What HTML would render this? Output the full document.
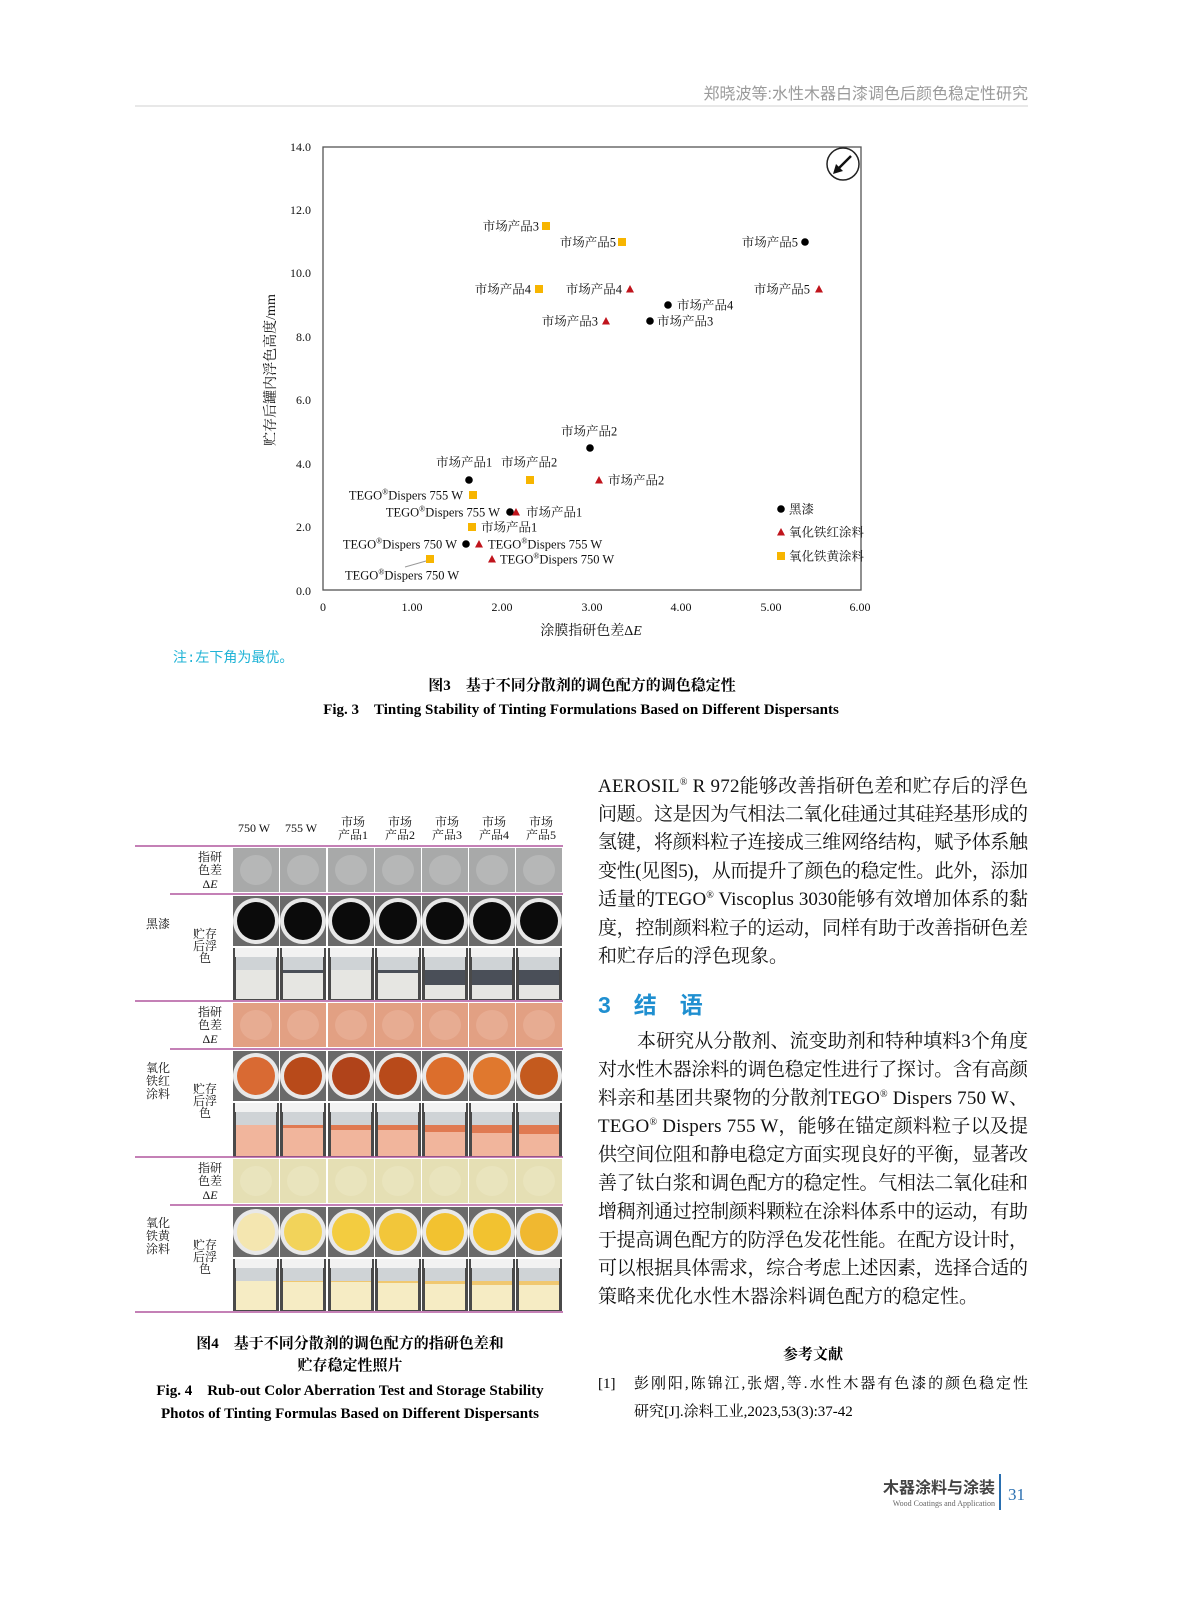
<!DOCTYPE html>
<html><head><meta charset="utf-8">
<style>
html,body{margin:0;padding:0;background:#fff;}
svg{display:block;}
.s{font-family:"Liberation Serif","Noto Serif CJK SC",serif;}
.h{font-family:"Liberation Sans","Noto Sans CJK SC",sans-serif;}
</style></head>
<body>
<svg id="pg" width="1187" height="1600" viewBox="0 0 1187 1600" xmlns="http://www.w3.org/2000/svg">
<rect width="1187" height="1600" fill="#fff"/>
<text x="1028" y="99" text-anchor="end" class="h" font-size="16" fill="#9a9a9a">郑晓波等:水性木器白漆调色后颜色稳定性研究</text>
<line x1="135" y1="106" x2="1028" y2="106" stroke="#d0d0d0" stroke-width="1"/>

<g class="s" font-size="12.5" fill="#111">
<rect x="323" y="147" width="538" height="443" fill="none" stroke="#555" stroke-width="1.3"/>
<g text-anchor="end" font-size="12">
<text x="311" y="151">14.0</text><text x="311" y="214">12.0</text><text x="311" y="277">10.0</text>
<text x="311" y="341">8.0</text><text x="311" y="404">6.0</text><text x="311" y="468">4.0</text>
<text x="311" y="531">2.0</text><text x="311" y="595">0.0</text>
</g>
<g text-anchor="middle" font-size="12">
<text x="323" y="611">0</text><text x="412" y="611">1.00</text><text x="502" y="611">2.00</text>
<text x="592" y="611">3.00</text><text x="681" y="611">4.00</text><text x="771" y="611">5.00</text><text x="860" y="611">6.00</text>
</g>
<text x="591" y="635" text-anchor="middle" font-size="14">涂膜指研色差Δ<tspan font-style="italic">E</tspan></text>
<text transform="translate(275,370) rotate(-90)" text-anchor="middle" font-size="14">贮存后罐内浮色高度/mm</text>
<circle cx="843" cy="164" r="16" fill="#fff" stroke="#222" stroke-width="1.5"/>
<line x1="851" y1="156" x2="837" y2="170" stroke="#111" stroke-width="2.5"/>
<polygon points="833,174 836,164 843,171" fill="#111"/>
</g>
<g id="pts" class="s" font-size="12.5" fill="#111"></g>

<text x="173" y="662" font-family="'Liberation Mono','Noto Sans CJK SC',monospace" font-size="14" fill="#1fb3d6">注:左下角为最优。</text>
<text x="582" y="690" text-anchor="middle" class="s" font-size="15" font-weight="bold">图3　基于不同分散剂的调色配方的调色稳定性</text>
<text x="581" y="714" text-anchor="middle" class="s" font-size="15" font-weight="bold">Fig. 3　Tinting Stability of Tinting Formulations Based on Different Dispersants</text>

<g id="grid"></g>
<g class="s" font-size="12" fill="#111">
<text x="254" y="832" text-anchor="middle">750 W</text>
<text x="301" y="832" text-anchor="middle">755 W</text>
</g>
<g id="glab" class="s" font-size="12" fill="#111"></g>

<text x="350" y="1348" text-anchor="middle" class="s" font-size="15" font-weight="bold">图4　基于不同分散剂的调色配方的指研色差和</text>
<text x="350" y="1370" text-anchor="middle" class="s" font-size="15" font-weight="bold">贮存稳定性照片</text>
<text x="350" y="1395" text-anchor="middle" class="s" font-size="15" font-weight="bold">Fig. 4　Rub-out Color Aberration Test and Storage Stability</text>
<text x="350" y="1418" text-anchor="middle" class="s" font-size="15" font-weight="bold">Photos of Tinting Formulas Based on Different Dispersants</text>

<g id="rt" class="s" font-size="19" fill="#111"></g>
<text x="598" y="1013" font-family="'Liberation Sans','Noto Sans CJK SC',sans-serif" font-size="23" font-weight="bold" fill="#1f8fd0">3　结　语</text>
<text x="813" y="1359" text-anchor="middle" class="s" font-size="15" font-weight="bold">参考文献</text>
<text x="598" y="1388" class="s" font-size="15">[1]</text>
<text x="634" y="1388" class="s" font-size="15" textLength="394" lengthAdjust="spacing">彭刚阳,陈锦江,张熠,等.水性木器有色漆的颜色稳定性</text>
<text x="634" y="1416" class="s" font-size="15">研究[J].涂料工业,2023,53(3):37-42</text>

<text x="995" y="1493" text-anchor="end" class="h" font-size="16" font-weight="bold" fill="#444">木器涂料与涂装</text>
<text x="995" y="1506" text-anchor="end" class="s" font-size="8" fill="#666">Wood Coatings and Application</text>
<line x1="1000" y1="1474" x2="1000" y2="1510" stroke="#2a6fb0" stroke-width="2"/>
<text x="1008" y="1500" class="s" font-size="17" fill="#2a6fb0">31</text>
</svg>
<script>
(function(){
var NS="http://www.w3.org/2000/svg";
function el(p,t,a,txt){var e=document.createElementNS(NS,t);for(var k in a)e.setAttribute(k,a[k]);if(txt!=null)e.textContent=txt;p.appendChild(e);return e;}
var P=document.getElementById('pts');
function dot(x,y){el(P,'circle',{cx:x,cy:y,r:3.8,fill:'#000'});}
function tri(x,y){el(P,'polygon',{points:(x-4)+','+(y+3.5)+' '+(x+4)+','+(y+3.5)+' '+x+','+(y-4),fill:'#c0141c'});}
function sq(x,y){el(P,'rect',{x:x-4,y:y-4,width:8,height:8,fill:'#f7b500'});}
function lab(x,y,t,end){var e=el(P,'text',{x:x,y:y+4.5},null);if(end)e.setAttribute('text-anchor','end');
 var m=t.split('®');e.appendChild(document.createTextNode(m[0]));if(m.length>1){el(e,'tspan',{'font-size':'8',dy:'-5'},'®');el(e,'tspan',{dy:'5'},m[1]);}}
var M='市场产品';
sq(546,226);lab(539,226,M+'3',1);
sq(622,242);lab(616,242,M+'5',1);
dot(805,242);lab(798,242,M+'5',1);
sq(539,289);lab(531,289,M+'4',1);
tri(630,289);lab(622,289,M+'4',1);
tri(819,289);lab(810,289,M+'5',1);
dot(668,305);lab(677,305,M+'4');
tri(606,321);lab(598,321,M+'3',1);
dot(650,321);lab(657,321,M+'3');
dot(590,448);lab(561,431,M+'2');
dot(469,480);lab(436,462,M+'1');
sq(530,480);lab(501,462,M+'2');
tri(599,480);lab(608,480,M+'2');
sq(473,495);lab(463,495,'TEGO®Dispers 755 W',1);
dot(510,512);tri(516,512);lab(500,512,'TEGO®Dispers 755 W',1);lab(526,512,M+'1');
sq(472,527);lab(481,527,M+'1');
dot(466,544);lab(457,544,'TEGO®Dispers 750 W',1);
tri(479,544);lab(488,544,'TEGO®Dispers 755 W');
sq(430,559);el(P,'line',{x1:426,y1:561,x2:405,y2:567,stroke:'#999','stroke-width':1});lab(345,575,'TEGO®Dispers 750 W');
tri(492,559);lab(500,559,'TEGO®Dispers 750 W');
dot(781,509);lab(789,509,'黑漆');
tri(781,532);lab(789,532,'氧化铁红涂料');
sq(781,556);lab(789,556,'氧化铁黄涂料');

var G=document.getElementById('grid');
var cx=[233,280,328,375,422,469,516];var cw=46;
var L=document.getElementById('glab');
for(var i=0;i<5;i++){var x=cx[i+2]+cw/2+2;el(L,'text',{x:x,y:826,'text-anchor':'middle'},'市场');el(L,'text',{x:x,y:839,'text-anchor':'middle'},'产品'+(i+1));}
var sets=[
 {y:848,de:'#a8a9a9',dc:'#bcbdbd',top:'#0b0b0b',side:'#e6e6e2',band:'#4a4f58',bands:[0,3,0,3,15,15,15]},
 {y:1003,de:'#e2a083',dc:'#e9b198',top:'#c3541d',side:'#f1b59c',band:'#e07a52',bands:[0,3,5,5,7,8,9],tops:['#d96a33','#b84a1a','#b0431a','#b84a1a','#dc6e2c','#e0782e','#c45a1e']},
 {y:1159,de:'#e5dfb4',dc:'#ebe5c0',top:'#f0c53a',side:'#f6ecc4',band:'#f0c870',bands:[0,1,1,2,3,4,4],tops:['#f4e6b0','#f2d35a','#f3cc40','#f2c63a','#f2c230','#f2c230','#f0b830']}];
for(var r=0;r<3;r++){var S=sets[r];var y=S.y;
 for(var c=0;c<7;c++){var x=cx[c];
  el(G,'rect',{x:x,y:y,width:cw,height:44,fill:S.de});
  el(G,'ellipse',{cx:x+23,cy:y+22,rx:16,ry:15,fill:S.dc,opacity:0.7});
  var ty=y+48;
  el(G,'rect',{x:x,y:ty,width:cw,height:50,fill:'#6a6a6a'});
  el(G,'circle',{cx:x+23,cy:ty+25,r:23,fill:'#e8e8e8'});
  el(G,'circle',{cx:x+23,cy:ty+25,r:19,fill:S.tops?S.tops[c]:S.top});
  var sy=ty+52,sh=(r==1?54:52);
  el(G,'rect',{x:x,y:sy,width:cw,height:sh,fill:'#4a4a4a'});
  el(G,'rect',{x:x+2,y:sy,width:cw-4,height:9,fill:'#f2f2f2'});
  el(G,'rect',{x:x+3,y:sy+9,width:cw-6,height:sh-10,fill:'#cfd3d6'});
  var liq=sy+22;
  el(G,'rect',{x:x+3,y:liq,width:cw-6,height:sy+sh-1-liq,fill:S.side});
  if(S.bands[c]>0)el(G,'rect',{x:x+3,y:liq,width:cw-6,height:S.bands[c],fill:S.band});
 }
 el(G,'line',{x1:135,y1:y-2,x2:563,y2:y-2,stroke:'#b0579e','stroke-width':1.5});
 el(G,'line',{x1:170,y1:y+46,x2:563,y2:y+46,stroke:'#b0579e','stroke-width':1.5});
 el(L,'text',{x:210,y:y+13,'text-anchor':'middle'},'指研');
 el(L,'text',{x:210,y:y+26,'text-anchor':'middle'},'色差');
 var d=el(L,'text',{x:210,y:y+40,'text-anchor':'middle'},'Δ');el(d,'tspan',{'font-style':'italic'},'E');
 var my=y+98;
 el(L,'text',{x:205,y:my-8,'text-anchor':'middle'},'贮存');
 el(L,'text',{x:205,y:my+4,'text-anchor':'middle'},'后浮');
 el(L,'text',{x:205,y:my+16,'text-anchor':'middle'},'色');
 if(r==0){el(L,'text',{x:158,y:928,'text-anchor':'middle'},'黑漆');}
 else{var nm=r==1?['氧化','铁红','涂料']:['氧化','铁黄','涂料'];var by=r==1?1072:1227;
  for(var k=0;k<3;k++)el(L,'text',{x:158,y:by+k*13,'text-anchor':'middle'},nm[k]);}
}
el(G,'line',{x1:135,y1:1312,x2:563,y2:1312,stroke:'#b0579e','stroke-width':1.5});

var R=document.getElementById('rt');
function line(y,t,x,just){var e=el(R,'text',{x:x||598,y:y+7},null);if(just!==false){e.setAttribute('textLength',1028-(x||598));e.setAttribute('lengthAdjust','spacing');}
 var m=t.split('®');e.appendChild(document.createTextNode(m[0]));for(var i=1;i<m.length;i++){el(e,'tspan',{'font-size':'10',dy:'-7'},'®');el(e,'tspan',{dy:'7'},m[i]);}}
var L1=['AEROSIL® R 972能够改善指研色差和贮存后的浮色','问题。这是因为气相法二氧化硅通过其硅羟基形成的','氢键，将颜料粒子连接成三维网络结构，赋予体系触','变性(见图5)，从而提升了颜色的稳定性。此外，添加','适量的TEGO® Viscoplus 3030能够有效增加体系的黏','度，控制颜料粒子的运动，同样有助于改善指研色差'];
var ys=[785,813,841,870,898,927];
for(var i=0;i<6;i++)line(ys[i],L1[i]);
line(955,'和贮存后的浮色现象。',598,false);
var L2=['本研究从分散剂、流变助剂和特种填料3个角度','对水性木器涂料的调色稳定性进行了探讨。含有高颜','料亲和基团共聚物的分散剂TEGO® Dispers 750 W、','TEGO® Dispers 755 W，能够在锚定颜料粒子以及提','供空间位阻和静电稳定方面实现良好的平衡，显著改','善了钛白浆和调色配方的稳定性。气相法二氧化硅和','增稠剂通过控制颜料颗粒在涂料体系中的运动，有助','于提高调色配方的防浮色发花性能。在配方设计时，','可以根据具体需求，综合考虑上述因素，选择合适的'];
for(var i=0;i<9;i++)line(1040+i*28.4,L2[i],i==0?637:598);
line(1040+9*28.4,'策略来优化水性木器涂料调色配方的稳定性。',598,false);
})();
</script>
</body></html>
